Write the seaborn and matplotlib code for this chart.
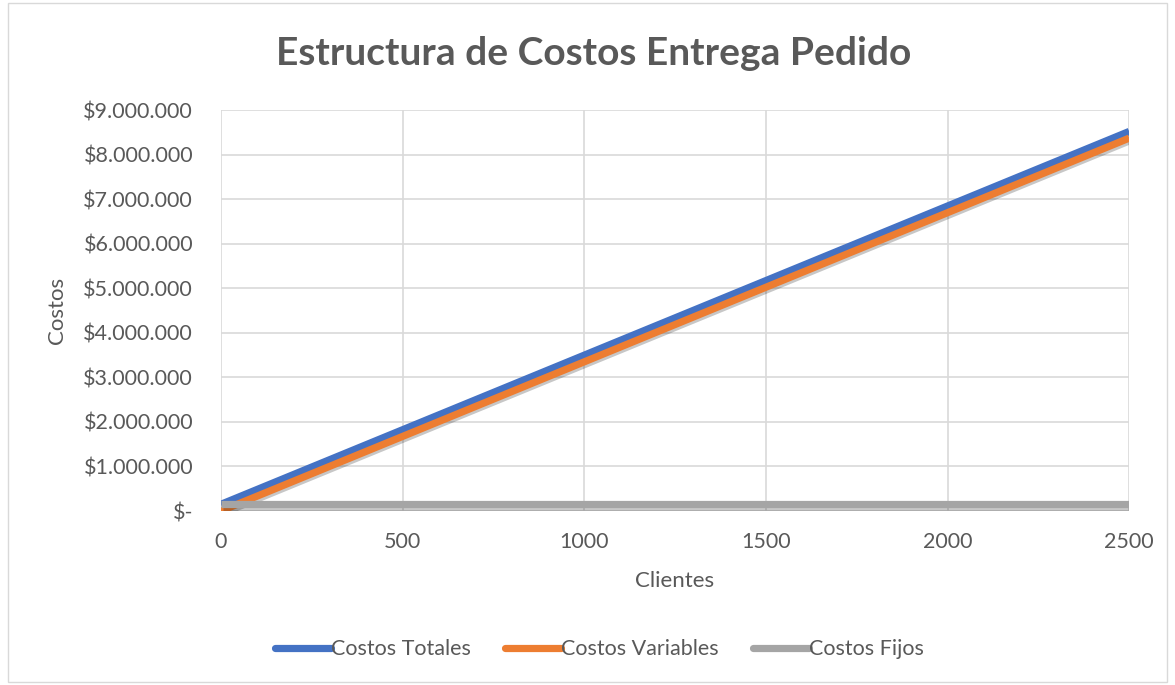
import matplotlib
matplotlib.use("Agg")
import matplotlib.pyplot as plt
import matplotlib.patheffects as pe
from matplotlib.ticker import FuncFormatter
import seaborn as sns
import pandas as pd

# Cost structure per number of customers served
clientes = [0, 500, 1000, 1500, 2000, 2500]
costos_totales = [150000, 1825000, 3500000, 5175000, 6850000, 8525000]
costos_variables = [0, 1675000, 3350000, 5025000, 6700000, 8375000]
costos_fijos = [150000, 150000, 150000, 150000, 150000, 150000]

series_names = ["Costos Totales", "Costos Variables", "Costos Fijos"]
series_colors = ["#4472C4", "#ED7D31", "#A5A5A5"]

df = pd.DataFrame({
    "Clientes": clientes * 3,
    "Costos": costos_totales + costos_variables + costos_fijos,
    "Serie": [series_names[0]] * len(clientes)
    + [series_names[1]] * len(clientes)
    + [series_names[2]] * len(clientes),
})

sns.set_theme(style="white")
plt.rcParams["font.family"] = ["Lato", "DejaVu Sans"]

text_color = "#595959"
grid_color = "#D9D9D9"

fig = plt.figure(figsize=(11.75, 6.85), dpi=100)
ax = fig.add_axes([0.188, 0.254, 0.773, 0.585])

shadow = [pe.SimpleLineShadow(offset=(1.2, -1.6), shadow_color="#000000", alpha=0.22),
          pe.Normal()]

sns.lineplot(data=df, x="Clientes", y="Costos", hue="Serie",
             hue_order=series_names, palette=series_colors,
             linewidth=5.2, ax=ax, legend=False, sort=False)
for line in ax.lines:
    line.set_path_effects(shadow)
    line.set_solid_capstyle("butt")

ax.set_xlim(0, 2500)
ax.set_ylim(0, 9000000)
ax.set_xticks([0, 500, 1000, 1500, 2000, 2500])
ax.set_yticks(range(0, 9000001, 1000000))


def money(v, pos):
    if v == 0:
        return "$-"
    return "$" + f"{int(v):,}".replace(",", ".")


ax.yaxis.set_major_formatter(FuncFormatter(money))
ax.tick_params(axis="both", colors=text_color, labelsize=15.5, length=0)
ax.tick_params(axis="y", pad=20)
ax.tick_params(axis="x", pad=15)
ax.grid(True, color=grid_color, linewidth=1.2)
ax.set_axisbelow(True)
for s in ax.spines.values():
    s.set_visible(False)

ax.set_xlabel("Clientes", color=text_color, fontsize=16, labelpad=14)
ax.set_ylabel("Costos", color=text_color, fontsize=16, labelpad=12)

fig.suptitle("Estructura de Costos Entrega Pedido", x=0.505, y=0.947,
             fontsize=28, fontweight="bold", color=text_color)

handles = [plt.Line2D([0], [0], color=c, linewidth=5.2, solid_capstyle="round")
           for c in series_colors]
leg = fig.legend(handles, series_names, loc="center", bbox_to_anchor=(0.51, 0.052),
                 ncol=3, frameon=False, fontsize=15.5, handlelength=2.6,
                 handletextpad=0.0, columnspacing=1.6, labelcolor=text_color)

# chart area border
fig.patches.append(plt.Rectangle((0.007, 0.005), 0.986, 0.99, transform=fig.transFigure,
                                 fill=False, edgecolor="#D9D9D9", linewidth=1.0))

fig.savefig("out.png", dpi=100)
